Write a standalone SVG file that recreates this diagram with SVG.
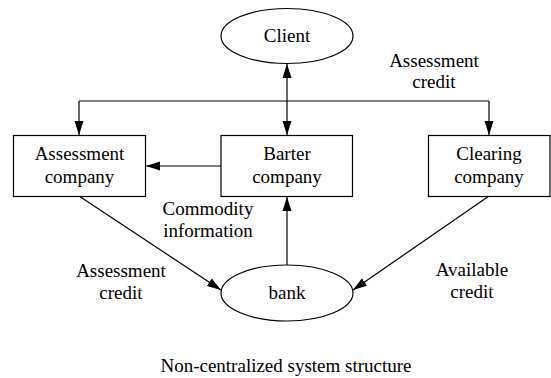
<svg xmlns="http://www.w3.org/2000/svg" width="551" height="378" viewBox="0 0 551 378">
  <style>
    .shape { fill: #fff; stroke: #000; stroke-width: 1.2; }
    .edge { fill: none; stroke: #000; stroke-width: 1.2; }
    text { font-family: "Liberation Serif", "Times New Roman", serif; font-size: 19px; fill: #000; text-anchor: middle; }
  </style>
  <defs>
    <marker id="arrow" viewBox="0 0 10 10" refX="10" refY="5" markerWidth="10" markerHeight="10" markerUnits="userSpaceOnUse" orient="auto-start-reverse">
      <path d="M0,1 L10,5 L0,9 Z" fill="#000"/>
    </marker>
    <marker id="arrowL" viewBox="0 0 14 10" refX="14" refY="5" markerWidth="14" markerHeight="10" markerUnits="userSpaceOnUse" orient="auto-start-reverse">
      <path d="M0,0.5 L14,5 L0,9.5 Z" fill="#000"/>
    </marker>
  </defs>

  <g id="connectors">
    <!-- Client <-> Barter -->
    <line class="edge" x1="287" y1="64" x2="287" y2="135" marker-start="url(#arrowL)" marker-end="url(#arrowL)"/>
    <!-- bus feeding Assessment and Clearing -->
    <line class="edge" x1="79" y1="101" x2="489" y2="101"/>
    <line class="edge" x1="79" y1="101" x2="79" y2="135" marker-end="url(#arrowL)"/>
    <line class="edge" x1="489" y1="101" x2="489" y2="135" marker-end="url(#arrowL)"/>
    <!-- Barter -> Assessment -->
    <line class="edge" x1="221" y1="166" x2="146" y2="166" marker-end="url(#arrowL)"/>
    <!-- bank -> Barter -->
    <line class="edge" x1="287" y1="266" x2="287" y2="197" marker-end="url(#arrowL)"/>
    <!-- Assessment -> bank -->
    <line class="edge" x1="79" y1="196" x2="221" y2="290" marker-end="url(#arrowL)"/>
    <!-- Clearing -> bank -->
    <line class="edge" x1="489" y1="196" x2="353" y2="290" marker-end="url(#arrowL)"/>
  </g>

  <g id="client">
    <ellipse class="shape" cx="287" cy="36" rx="66" ry="27.5"/>
    <text x="287" y="42">Client</text>
  </g>

  <g id="assessment-company">
    <rect class="shape" x="13.5" y="135.5" width="132" height="61"/>
    <text x="79.5" y="160">Assessment</text>
    <text x="79.5" y="183">company</text>
  </g>

  <g id="barter-company">
    <rect class="shape" x="221" y="135.5" width="131.5" height="61"/>
    <text x="287" y="160">Barter</text>
    <text x="287" y="183">company</text>
  </g>

  <g id="clearing-company">
    <rect class="shape" x="428.5" y="135.5" width="121.5" height="61"/>
    <text x="489" y="160">Clearing</text>
    <text x="489" y="183">company</text>
  </g>

  <g id="bank">
    <ellipse class="shape" cx="287" cy="293" rx="66" ry="28"/>
    <text x="287" y="299">bank</text>
  </g>

  <g id="labels">
    <text x="434" y="67">Assessment</text>
    <text x="434" y="88">credit</text>
    <text x="208" y="215">Commodity</text>
    <text x="208" y="237">information</text>
    <text x="121" y="277">Assessment</text>
    <text x="121" y="299">credit</text>
    <text x="472" y="276">Available</text>
    <text x="472" y="298">credit</text>
    <text x="286" y="372">Non-centralized system structure</text>
  </g>
</svg>
